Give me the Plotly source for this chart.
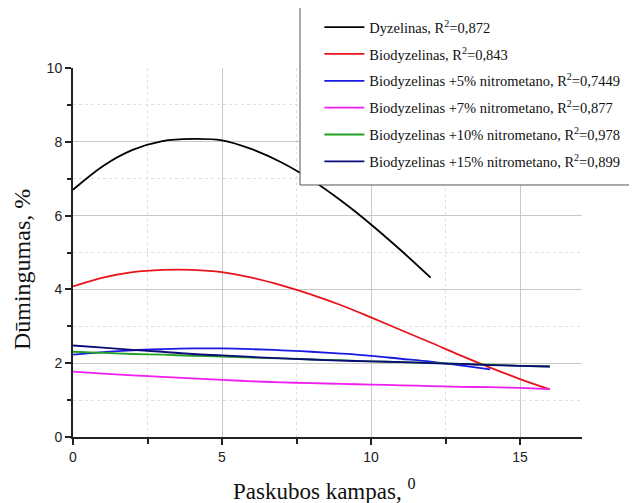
import plotly.graph_objects as go

# Data
x_dyz = [0, 1, 2, 3, 4, 5, 6, 7, 8, 9, 10, 11, 12]
y_dyz = [6.70, 7.34, 7.78, 8.02, 8.08, 8.04, 7.80, 7.44, 6.97, 6.40, 5.76, 5.06, 4.32]

x_bio = [0, 1, 2, 3, 4, 5, 6, 7, 8, 9, 10, 11, 12, 13, 14, 15, 16]
y_bio = [4.08, 4.32, 4.47, 4.53, 4.53, 4.47, 4.32, 4.11, 3.86, 3.57, 3.24, 2.90, 2.56, 2.21, 1.88, 1.57, 1.29]

x_n5 = [0, 1, 2, 3, 4, 5, 6, 7, 8, 9, 10, 11, 12, 13, 14]
y_n5 = [2.23, 2.30, 2.35, 2.38, 2.40, 2.40, 2.38, 2.35, 2.31, 2.26, 2.20, 2.12, 2.04, 1.94, 1.83]

x_n7 = [0, 1, 2, 3, 4, 5, 6, 7, 8, 9, 10, 11, 12, 13, 14, 15, 16]
y_n7 = [1.77, 1.72, 1.67, 1.63, 1.59, 1.55, 1.51, 1.48, 1.46, 1.44, 1.42, 1.40, 1.38, 1.36, 1.35, 1.33, 1.30]

x_n10 = [0, 1, 2, 3, 4, 5, 6, 7, 8, 9, 10, 11, 12, 13, 14, 15, 16]
y_n10 = [2.31, 2.28, 2.25, 2.23, 2.20, 2.18, 2.15, 2.13, 2.10, 2.08, 2.05, 2.03, 2.01, 1.98, 1.96, 1.93, 1.91]

x_n15 = [0, 1, 2, 3, 4, 5, 6, 7, 8, 9, 10, 11, 12, 13, 14, 15, 16]
y_n15 = [2.48, 2.42, 2.36, 2.31, 2.25, 2.21, 2.17, 2.13, 2.10, 2.07, 2.05, 2.03, 2.00, 1.98, 1.95, 1.93, 1.91]

x_ticks = [0, 5, 10, 15]
y_ticks = [0, 2, 4, 6, 8, 10]

names = [
    "Dyzelinas, R<sup>2</sup>=0,872",
    "Biodyzelinas, R<sup>2</sup>=0,843",
    "Biodyzelinas +5% nitrometano, R<sup>2</sup>=0,7449",
    "Biodyzelinas +7% nitrometano, R<sup>2</sup>=0,877",
    "Biodyzelinas +10% nitrometano, R<sup>2</sup>=0,978",
    "Biodyzelinas +15% nitrometano, R<sup>2</sup>=0,899",
]
colors = ["#000000", "#e8141c", "#1a1ae6", "#f01ef0", "#22a022", "#0a0a78"]
series = [(x_dyz, y_dyz), (x_bio, y_bio), (x_n5, y_n5), (x_n7, y_n7), (x_n10, y_n10), (x_n15, y_n15)]

fig = go.Figure()
for i, ((xs, ys), nm, c) in enumerate(zip(series, names, colors)):
    fig.add_trace(go.Scatter(
        x=xs, y=ys, mode="lines", name=nm,
        line=dict(color=c, width=1.8, shape="spline", smoothing=1.0),
        legendgroup=f"g{i}",
    ))

serif = "Liberation Serif, Times New Roman, serif"
sans = "Liberation Sans, Arial, sans-serif"

# legend frame drawn as a shape (box extends past the top/right edges)
fig.add_shape(type="rect", xref="paper", yref="paper",
              x0=0.446, x1=1.25, y0=0.683, y1=1.25,
              line=dict(color="#555555", width=1), fillcolor="white", layer="above")

# axis titles as annotations for exact placement
fig.add_annotation(text="Paskubos kampas, <sup>0</sup>", xref="paper", yref="paper",
                   x=0.493, y=-0.1436, xanchor="center", yanchor="middle", showarrow=False,
                   font=dict(family=serif, size=23, color="#111111"))
fig.add_annotation(text="Dūmingumas, %", xref="paper", yref="paper",
                   x=-0.1002, y=0.455, xanchor="center", yanchor="middle", showarrow=False,
                   textangle=-90, font=dict(family=serif, size=24, color="#111111"))

fig.update_layout(
    width=629, height=495,
    margin=dict(l=65, r=55, t=60, b=66, autoexpand=False),
    paper_bgcolor="white", plot_bgcolor="white",
    showlegend=True,
    legend=dict(
        x=0.484, y=1.154, xanchor="left", yanchor="top",
        bgcolor="rgba(0,0,0,0)", borderwidth=0,
        font=dict(family=serif, size=14.5, color="#111111"),
        itemwidth=40, tracegroupgap=5, traceorder="grouped",
    ),
    xaxis=dict(
        range=[0, 17.08], tickvals=x_ticks, ticktext=[str(v) for v in x_ticks],
        showline=True, linecolor="#222222", linewidth=2,
        ticks="outside", ticklen=6, tickwidth=1.5, tickcolor="#222222",
        showgrid=True, gridcolor="#c8c8c8", gridwidth=1, zeroline=False,
        tickfont=dict(family=sans, size=14, color="#222222"),
        minor=dict(tickvals=[2.5, 7.5, 12.5], ticks="outside", ticklen=5, tickcolor="#222222",
                   showgrid=True, gridcolor="#e0e0e0", griddash="dot", gridwidth=1),
    ),
    yaxis=dict(
        range=[0, 10], tickvals=y_ticks, ticktext=[str(v) for v in y_ticks],
        showline=True, linecolor="#222222", linewidth=2,
        ticks="outside", ticklen=6, tickwidth=1.5, tickcolor="#222222",
        showgrid=True, gridcolor="#c8c8c8", gridwidth=1, zeroline=False,
        tickfont=dict(family=sans, size=14, color="#222222"),
        minor=dict(tickvals=[1, 3, 5, 7, 9], ticks="outside", ticklen=4, tickcolor="#222222",
                   showgrid=True, gridcolor="#e0e0e0", griddash="dot", gridwidth=1),
    ),
)

fig.write_html("out.html")
